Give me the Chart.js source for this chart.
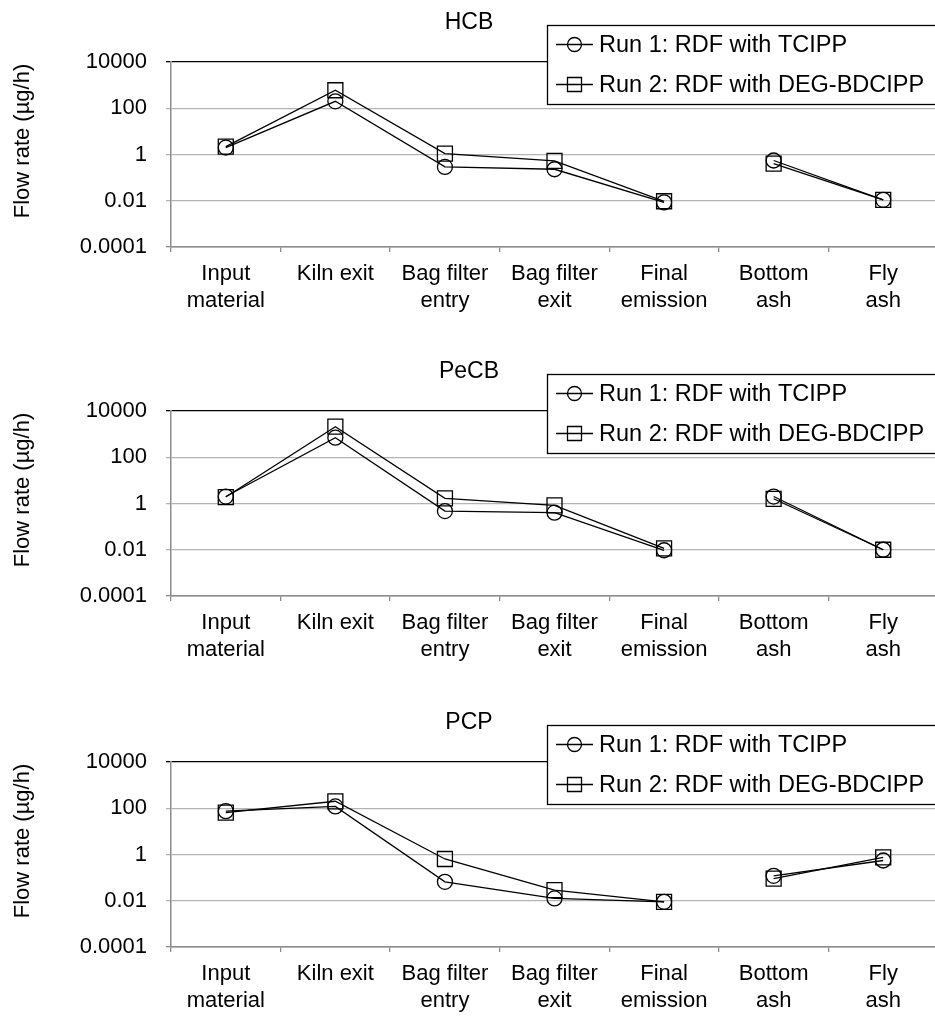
<!DOCTYPE html>
<html>
<head>
<meta charset="UTF-8">
<title>Flow rates - HCB, PeCB, PCP</title>
<script src="https://cdn.jsdelivr.net/npm/chart.js"></script>
<style>
  html, body { margin: 0; padding: 0; overflow: hidden; background: #fff; }
  #wrap { position: relative; width: 935px; height: 1016px; overflow: hidden; }
  .panel { position: absolute; left: 0; width: 950px; height: 350px; }
</style>
</head>
<body>
<div id="wrap">
  <canvas id="hcb" class="panel" width="950" height="350" style="top:0px"></canvas>
  <canvas id="pecb" class="panel" width="950" height="350" style="top:349px"></canvas>
  <canvas id="pcp" class="panel" width="950" height="350" style="top:700px"></canvas>
</div>

<script>
// sampling points along the kiln line
var categories = [['Input', 'material'], 'Kiln exit', ['Bag filter', 'entry'], ['Bag filter', 'exit'],
                  ['Final', 'emission'], ['Bottom', 'ash'], ['Fly', 'ash']];

var seriesNames = ['Run 1: RDF with TCIPP', 'Run 2: RDF with DEG-BDCIPP'];

// flow rates in µg/h
var hcbRun1  = [2.0, 200, 0.29, 0.23, 0.0085, 0.55, 0.011];
var hcbRun2  = [2.2, 600, 1.1, 0.53, 0.0095, 0.40, 0.011];
var pecbRun1 = [2.0, 700, 0.47, 0.40, 0.0095, 2.0, 0.010];
var pecbRun2 = [1.9, 2100, 1.66, 0.83, 0.0115, 1.6, 0.010];
var pcpRun1  = [75, 120, 0.066, 0.0126, 0.009, 0.12, 0.55];
var pcpRun2  = [65, 200, 0.64, 0.029, 0.009, 0.09, 0.75];

var tickValues = [0.0001, 0.01, 1, 100, 10000];
var tickLabels = ['0.0001', '0.01', '1', '100', '10000'];
var yTitle = 'Flow rate (µg/h)';

var FONT = '"Liberation Sans", Arial, sans-serif';
var markerStyles = ['circle', 'rect'];

// boxed legend over the top right corner, plus the y axis title
var panelDecor = {
  id: 'panelDecor',
  afterDraw: function (chart) {
    var ctx = chart.ctx;
    ctx.save();

    ctx.fillStyle = '#000';
    ctx.font = '22px ' + FONT;
    ctx.textAlign = 'center';
    ctx.textBaseline = 'middle';
    ctx.translate(23, 141);
    ctx.rotate(-Math.PI / 2);
    ctx.fillText(yTitle, 0, 0);
    ctx.setTransform(1, 0, 0, 1, 0, 0);

    ctx.fillStyle = '#fff';
    ctx.fillRect(547, 25, 420, 79);
    ctx.strokeStyle = '#000';
    ctx.lineWidth = 1.3;
    ctx.strokeRect(547.5, 25.5, 420, 79);
    ctx.textAlign = 'left';
    chart.data.datasets.forEach(function (ds, i) {
      var y = 44.5 + i * 40;
      ctx.beginPath();
      ctx.moveTo(556, y);
      ctx.lineTo(593, y);
      ctx.stroke();
      ctx.beginPath();
      if (ds.pointStyle === 'circle') {
        ctx.arc(574.5, y, 7, 0, Math.PI * 2);
      } else {
        ctx.rect(567.5, y - 7, 14, 14);
      }
      ctx.stroke();
      ctx.fillStyle = '#000';
      ctx.font = '23.5px ' + FONT;
      ctx.fillText(ds.label, 599, y + 1);
    });
    ctx.restore();
  }
};

function makeDataset(name, values, style) {
  return {
    label: name,
    data: values,
    borderColor: '#000',
    borderWidth: 1.3,
    tension: 0,
    pointStyle: style,
    pointRadius: style === 'circle' ? 7.5 : 10.6,
    pointBorderWidth: 1.3,
    pointBorderColor: '#000',
    pointBackgroundColor: 'rgba(0,0,0,0)',
    // no line between the gas-side points and the ash samples
    segment: {
      borderColor: function (c) { return c.p0DataIndex === 4 ? 'rgba(0,0,0,0)' : '#000'; }
    }
  };
}

function makePanel(id, title, run1, run2) {
  new Chart(document.getElementById(id), {
    type: 'line',
    data: {
      labels: categories,
      datasets: [makeDataset(seriesNames[0], run1, markerStyles[0]),
                 makeDataset(seriesNames[1], run2, markerStyles[1])]
    },
    options: {
      responsive: false,
      animation: false,
      events: [],
      // plot runs past the right edge of the page, last category is cut off
      layout: { padding: { left: 0, right: 12, top: 0, bottom: 0 } },
      plugins: {
        legend: { display: false },
        tooltip: { enabled: false },
        title: {
          display: true,
          text: title,
          color: '#000',
          font: { family: FONT, size: 23, weight: 'normal', lineHeight: 1.2 },
          padding: { top: 9.2, bottom: 25.2 }
        }
      },
      scales: {
        x: {
          type: 'category',
          offset: true,
          grid: { offset: true, drawOnChartArea: false, color: '#8c8c8c', lineWidth: 1.3, tickLength: 5 },
          border: { color: '#8c8c8c', width: 1.5 },
          ticks: {
            color: '#000', autoSkip: false, maxRotation: 0, padding: 8,
            font: { family: FONT, size: 22, lineHeight: 1.23 }
          },
          afterFit: function (s) {
            s.height = 103;
            s.paddingLeft = 0;
            s.paddingRight = 0;
          }
        },
        y: {
          type: 'logarithmic',
          min: 0.0001,
          max: 10000,
          afterBuildTicks: function (s) {
            s.ticks = tickValues.map(function (v) { return { value: v }; });
          },
          afterFit: function (s) { s.width = 171; },
          grid: {
            lineWidth: 1.3,
            tickLength: 5,
            color: function (c) {
              if (!c.tick) return '#b4b4b4';
              if (c.tick.value === 10000) return '#000';
              if (c.tick.value === 0.0001) return '#8c8c8c';
              return '#b4b4b4';
            }
          },
          border: { color: '#8c8c8c', width: 1.5 },
          ticks: {
            color: '#000', padding: 19,
            font: { family: FONT, size: 22 },
            callback: function (v) { return tickLabels[tickValues.indexOf(v)]; }
          }
        }
      }
    },
    plugins: [panelDecor]
  });
}

makePanel('hcb', 'HCB', hcbRun1, hcbRun2);
makePanel('pecb', 'PeCB', pecbRun1, pecbRun2);
makePanel('pcp', 'PCP', pcpRun1, pcpRun2);
</script>
</body>
</html>
